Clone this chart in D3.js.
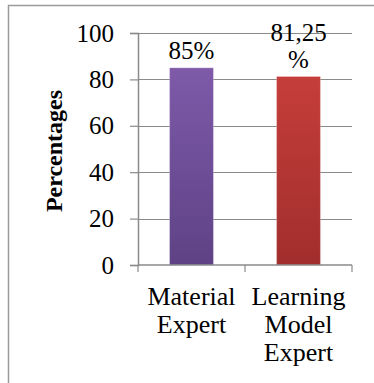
<!DOCTYPE html>
<html>
<head>
<meta charset="utf-8">
<script src="https://cdn.jsdelivr.net/npm/d3@7"></script>
<style>
  html, body { margin: 0; padding: 0; background: #fff; }
  svg { display: block; }
  text { font-family: "Liberation Serif", "Times New Roman", serif; fill: #000; }
</style>
</head>
<body>
<div id="chart"></div>
<script>
// chart data
const categories = [['Material', 'Expert'], ['Learning', 'Model', 'Expert']]
const values     = [85, 81.25]
const valueLabels = [['85%'], ['81,25', '%']]
const yTicks     = [0, 20, 40, 60, 80, 100]
const barTop     = ['#7e5aa9', '#c53e3b']
const barBottom  = ['#5e4285', '#a12e2c']

var width  = 374,
    height = 383,
    margin = { left: 138, right: 22, top: 33, bottom: 118 }

const svg = d3.select('#chart')
  .append('svg')
  .attr('width', width)
  .attr('height', height)

// outer frame, cut off at right and bottom like the original
svg.append('rect')
  .attr('x', 8.5).attr('y', 5.5)
  .attr('width', 400).attr('height', 400)
  .attr('fill', 'none')
  .attr('stroke', '#9a9a9a')
  .attr('stroke-width', 1.5)

const x = d3.scaleBand()
  .domain(d3.range(values.length))
  .range([margin.left, width - margin.right])
  .paddingInner(0.59)
  .paddingOuter(0.295)

const y = d3.scaleLinear()
  .domain([0, 100])
  .range([height - margin.bottom, margin.top])

// gradients
const defs = svg.append('defs')
values.forEach((v, i) => {
  const g = defs.append('linearGradient')
    .attr('id', `grad${i}`)
    .attr('x1', 0).attr('y1', 0).attr('x2', 0).attr('y2', 1)
  g.append('stop').attr('offset', '0%').attr('stop-color', barTop[i])
  g.append('stop').attr('offset', '100%').attr('stop-color', barBottom[i])
})

// gridlines
svg.append('g')
  .selectAll('line')
  .data(yTicks.filter(d => d > 0))
  .enter()
  .append('line')
    .attr('x1', margin.left)
    .attr('x2', width - margin.right)
    .attr('y1', d => Math.round(y(d)) + 0.5)
    .attr('y2', d => Math.round(y(d)) + 0.5)
    .attr('stroke', '#8a8a8a')
    .attr('stroke-width', 1.2)

// bars
svg.append('g')
  .selectAll('rect')
  .data(values)
  .enter()
  .append('rect')
    .attr('x', (d, i) => x(i))
    .attr('y', d => y(d))
    .attr('width', x.bandwidth())
    .attr('height', d => y(0) - y(d))
    .attr('fill', (d, i) => `url(#grad${i})`)
    .attr('stroke', 'rgba(255,255,255,0.25)')
    .attr('stroke-width', 1)

// y axis
const yAxis = svg.append('g')
  .attr('transform', `translate(${margin.left},0)`)
  .call(d3.axisLeft(y).tickValues(yTicks).tickSize(8).tickPadding(16))
yAxis.select('.domain').attr('stroke', '#8a8a8a').attr('stroke-width', 1.5)
yAxis.selectAll('.tick line').attr('stroke', '#8a8a8a').attr('stroke-width', 1.2)
yAxis.selectAll('.tick text')
  .style('font-family', '"Liberation Serif", serif')
  .style('font-size', '25px')
  .attr('fill', '#000')

// x axis line with category boundary ticks
const xBase = y(0)
const bounds = d3.range(values.length + 1).map(i => margin.left + i * x.step())
svg.append('line')
  .attr('x1', margin.left).attr('x2', width - margin.right)
  .attr('y1', xBase).attr('y2', xBase)
  .attr('stroke', '#8a8a8a').attr('stroke-width', 1.5)
svg.append('g')
  .selectAll('line')
  .data(bounds)
  .enter()
  .append('line')
    .attr('x1', d => d).attr('x2', d => d)
    .attr('y1', xBase).attr('y2', xBase + 7)
    .attr('stroke', '#8a8a8a').attr('stroke-width', 1.2)

// category labels
svg.append('g')
  .selectAll('text')
  .data(categories)
  .enter()
  .append('text')
    .attr('text-anchor', 'middle')
    .style('font-size', '26px')
    .each(function (d, i) {
      d3.select(this).selectAll('tspan')
        .data(d)
        .enter()
        .append('tspan')
          .attr('x', x(i) + x.bandwidth() / 2)
          .attr('y', (t, j) => 305 + j * 28)
          .text(t => t)
    })

// value labels, one text per line
const valueGroup = svg.append('g')
values.forEach((d, i) => {
  const lines = valueLabels[i]
  valueGroup.selectAll(null)
    .data(lines)
    .enter()
    .append('text')
      .attr('text-anchor', 'middle')
      .style('font-size', '25px')
      .attr('x', x(i) + x.bandwidth() / 2)
      .attr('y', (t, j) => y(d) - 9 - (lines.length - 1 - j) * 27)
      .text(t => t)
})

// y axis title
svg.append('text')
  .attr('transform', 'translate(62,151) rotate(-90)')
  .attr('text-anchor', 'middle')
  .style('font-size', '24px')
  .style('font-weight', 'bold')
  .text('Percentages')
</script>
</body>
</html>
